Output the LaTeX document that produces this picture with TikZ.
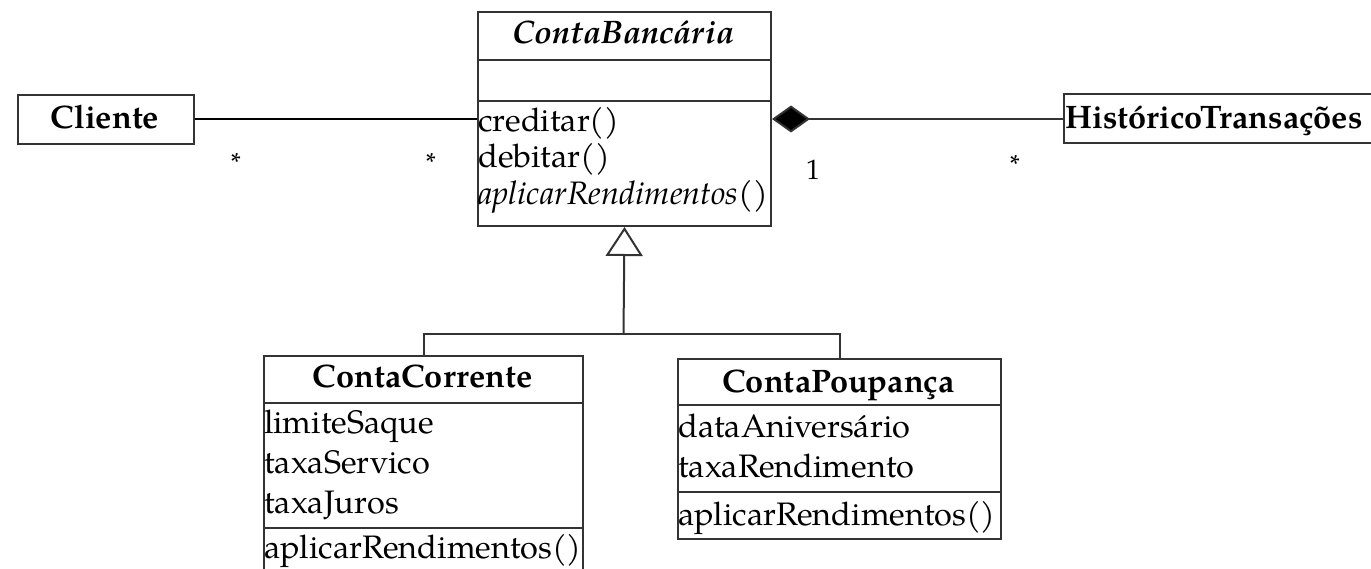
\documentclass[tikz,border=0pt]{standalone}
\usepackage{fontspec}
\setmainfont{TeX Gyre Pagella}
\usetikzlibrary{arrows.meta}
\begin{document}
\begin{tikzpicture}[x=1pt,y=-1pt,
  lc/.style={draw=black!80, line width=2pt},
  umlbox/.style={lc, fill=white, inner sep=0, anchor=north west},
  txt/.style={inner sep=0, font=\fontsize{32.5}{38}\selectfont},
  ttl/.style={txt, font=\fontsize{32.5}{38}\selectfont\bfseries},
  mult/.style={inner sep=0, font=\fontsize{26}{30}\selectfont}]
\useasboundingbox (0,0) rectangle (1371,569);
% ContaBancaria
\node[umlbox, minimum width=293pt, minimum height=214pt] (cb) at (477,11) {};
\draw[lc] (477,60) -- (770,60);
\draw[lc] (477,101) -- (770,101);
\node[ttl, anchor=base, font=\fontsize{32.5}{38}\selectfont\bfseries\itshape] (cbt) at (623.5,44) {ContaBancária};
\node[txt, anchor=base west] (m1) at (478,132) {creditar()};
\node[txt, anchor=base west] (m2) at (478,168) {debitar()};
\node[txt, anchor=base west, font=\fontsize{32.5}{38}\selectfont\itshape] (m3) at (478,205) {aplicarRendimentos()};
% Cliente
\node[umlbox, minimum width=176pt, minimum height=49pt] (cli) at (17,94) {};
\node[ttl, anchor=base] (clit) at (105,129) {Cliente};
% Historico
\node[umlbox, minimum width=330pt, minimum height=49pt] (hist) at (1063,93) {};
\node[ttl, anchor=base west] (histt) at (1065,129) {HistóricoTransações};
% ContaCorrente
\node[umlbox, minimum width=319pt, minimum height=230pt] (cc) at (263,355) {};
\draw[lc] (263,403) -- (582,403);
\draw[lc] (263,528) -- (582,528);
\node[ttl, anchor=base] (cct) at (422.5,388) {ContaCorrente};
\node[txt, anchor=base west] (a1) at (264,433) {limiteSaque};
\node[txt, anchor=base west] (a2) at (264,473) {taxaServico};
\node[txt, anchor=base west] (a3) at (264,513) {taxaJuros};
\node[txt, anchor=base west] (a4) at (264,558) {aplicarRendimentos()};
% ContaPoupanca
\node[umlbox, minimum width=323pt, minimum height=180pt] (cp) at (677,358) {};
\draw[lc] (677,405) -- (1000,405);
\draw[lc] (677,492) -- (1000,492);
\node[ttl, anchor=base] (cpt) at (838.5,392) {ContaPoupança};
\node[txt, anchor=base west] (b1) at (678,437) {dataAniversário};
\node[txt, anchor=base west] (b2) at (678,477) {taxaRendimento};
\node[txt, anchor=base west] (b3) at (678,525) {aplicarRendimentos()};
% connectors
\draw[lc, draw=black] (cli.east |- 0,119) -- (cb.west |- 0,119);
\draw[lc, -{Diamond[length=38pt, width=27pt, fill=black]}] (hist.west |- 0,119) -- (cb.east |- 0,119);
\coordinate (j) at (623.5,334);
\draw[lc] (cc.north) |- (j) -| (cp.north);
\draw[lc, -{Triangle[open, length=29pt, width=37pt, fill=white]}] (j) -- (cb.south);
% multiplicities
\node[mult] (s1) at (236,162) {*};
\node[mult] (s2) at (431,162) {*};
\node[mult] (s3) at (1015,164) {*};
\node[mult, font=\fontsize{28}{32}\selectfont] (one) at (813,170) {1};
\end{tikzpicture}
\end{document}
